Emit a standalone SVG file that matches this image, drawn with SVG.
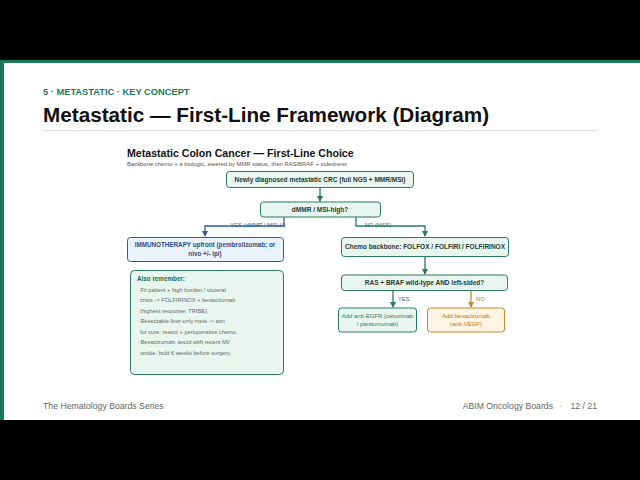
<svg xmlns="http://www.w3.org/2000/svg" width="640" height="480" viewBox="0 0 640 480">
<defs>
<style>
text{font-family:"Liberation Sans",Arial,sans-serif}
.g{fill:#e9f6f0;stroke:#2b7a5f;stroke-width:1}
.b{fill:#eaf2fb;stroke:#2e5d99;stroke-width:1}
.o{fill:#fdf4e4;stroke:#c08a2e;stroke-width:1}
.nt{font-size:6.5px;font-weight:bold;fill:#1f3b33;text-anchor:middle}
.bt{font-size:6.3px;font-weight:bold;fill:#2a4f86;text-anchor:middle}
.gt{font-size:6px;fill:#2b7a5f;text-anchor:middle}
.ot{font-size:6px;fill:#b07a24;text-anchor:middle}
.lg{stroke:#2b7a5f;stroke-width:1.3;fill:none}
.lb{stroke:#2e5d99;stroke-width:1.3;fill:none}
.lo{stroke:#c08a2e;stroke-width:1.3;fill:none}
.rt{font-size:5.7px;fill:#666}
</style>
<marker id="ag" markerWidth="6" markerHeight="6" refX="5" refY="3" orient="auto" markerUnits="userSpaceOnUse"><path d="M0,0 L6,3 L0,6 z" fill="#2b7a5f"/></marker>
<marker id="ab" markerWidth="6" markerHeight="6" refX="5" refY="3" orient="auto" markerUnits="userSpaceOnUse"><path d="M0,0 L6,3 L0,6 z" fill="#2e5d99"/></marker>
<marker id="ao" markerWidth="6" markerHeight="6" refX="5" refY="3" orient="auto" markerUnits="userSpaceOnUse"><path d="M0,0 L6,3 L0,6 z" fill="#c08a2e"/></marker>
</defs>
<rect width="640" height="480" fill="#000"/>
<rect x="0" y="60" width="640" height="360" fill="#fff"/>
<rect x="0" y="60" width="640" height="3" fill="#1c7a5c"/>
<rect x="0" y="60" width="4" height="360" fill="#1c7a5c"/>
<text x="43" y="95" font-size="9.3" font-weight="bold" fill="#1c7a5c">5 · METASTATIC · KEY CONCEPT</text>
<text x="43" y="122" font-size="20.7" font-weight="bold" fill="#111">Metastatic — First-Line Framework (Diagram)</text>
<rect x="43" y="130" width="554" height="1.2" fill="#e2e2e2"/>
<text x="127" y="157" font-size="10.6" font-weight="bold" fill="#111">Metastatic Colon Cancer — First-Line Choice</text>
<text x="127" y="166" font-size="5.9" fill="#555">Backbone chemo + a biologic, steered by MMR status, then RAS/BRAF + sidedness</text>

<g id="connectors">
<path class="lg" d="M320,187.5 V201" marker-end="url(#ag)"/>
<path class="lb" d="M284,217 V226 H205 V236" marker-end="url(#ab)"/>
<text x="258" y="227" font-size="5.8" fill="#2e5d99" text-anchor="middle">YES (dMMR / MSI-H)</text>
<path class="lg" d="M356,217 V226 H425 V236" marker-end="url(#ag)"/>
<text x="378" y="227" font-size="5.8" fill="#2b7a5f" text-anchor="middle">NO (MSS)</text>
<path class="lg" d="M425,256.5 V274" marker-end="url(#ag)"/>
<path class="lg" d="M393,290.5 V307" marker-end="url(#ag)"/>
<text x="398" y="301" font-size="5.8" fill="#2b7a5f">YES</text>
<path class="lo" d="M471,290.5 V307" marker-end="url(#ao)"/>
<text x="476" y="301" font-size="5.8" fill="#b07a24">NO</text>
</g>

<g id="n-start"><rect class="g" x="226.5" y="171.5" width="187" height="16" rx="3"/><text class="nt" x="320" y="181.8">Newly diagnosed metastatic CRC (full NGS + MMR/MSI)</text></g>
<g id="n-dmmr"><rect class="g" x="260.5" y="202" width="120" height="15" rx="3"/><text class="nt" x="320" y="211.8">dMMR / MSI-high?</text></g>
<g id="n-immuno"><rect class="b" x="127.5" y="237.5" width="156" height="24" rx="3"/><text class="bt" x="205" y="247">IMMUNOTHERAPY upfront (pembrolizumab; or</text><text class="bt" x="205" y="256">nivo +/- ipi)</text></g>
<g id="n-chemo"><rect class="g" x="341.5" y="237.5" width="167" height="19" rx="3"/><text class="nt" x="425" y="249">Chemo backbone: FOLFOX / FOLFIRI / FOLFIRINOX</text></g>
<g id="n-ras"><rect class="g" x="341.5" y="275" width="166" height="15.5" rx="3"/><text class="nt" x="424.5" y="285">RAS + BRAF wild-type AND left-sided?</text></g>
<g id="n-egfr"><rect class="g" x="338.5" y="308" width="78" height="24" rx="3"/><text class="gt" x="377.5" y="318">Add anti-EGFR (cetuximab</text><text class="gt" x="377.5" y="326">/ panitumumab)</text></g>
<g id="n-bev"><rect class="o" x="427.5" y="308" width="77" height="24" rx="3"/><text class="ot" x="466" y="318">Add bevacizumab</text><text class="ot" x="466" y="326">(anti-VEGF)</text></g>
<g id="n-remember"><rect class="g" x="130.5" y="270.5" width="153" height="104" rx="4"/>
<text x="137" y="281" font-size="6.3" font-weight="bold" fill="#1f6b52">Also remember:</text>
<text class="rt" x="137" y="291.5">· Fit patient + high burden / visceral</text>
<text class="rt" x="140" y="302">crisis -&gt; FOLFIRINOX + bevacizumab</text>
<text class="rt" x="140" y="312.5">(highest response; TRIBE).</text>
<text class="rt" x="137" y="323">· Resectable liver-only mets -&gt; aim</text>
<text class="rt" x="140" y="333.5">for cure: resect + perioperative chemo.</text>
<text class="rt" x="137" y="344">· Bevacizumab: avoid with recent MI/</text>
<text class="rt" x="140" y="354.5">stroke; hold 6 weeks before surgery.</text>
</g>
<text x="43" y="409" font-size="8.7" fill="#666">The Hematology Boards Series</text>
<text x="553" y="409" font-size="8.7" fill="#666" text-anchor="end">ABIM Oncology Boards</text>
<text x="561" y="409" font-size="8.7" fill="#999" text-anchor="middle">·</text>
<text x="597" y="409" font-size="8.7" fill="#666" text-anchor="end">12 / 21</text>
</svg>
